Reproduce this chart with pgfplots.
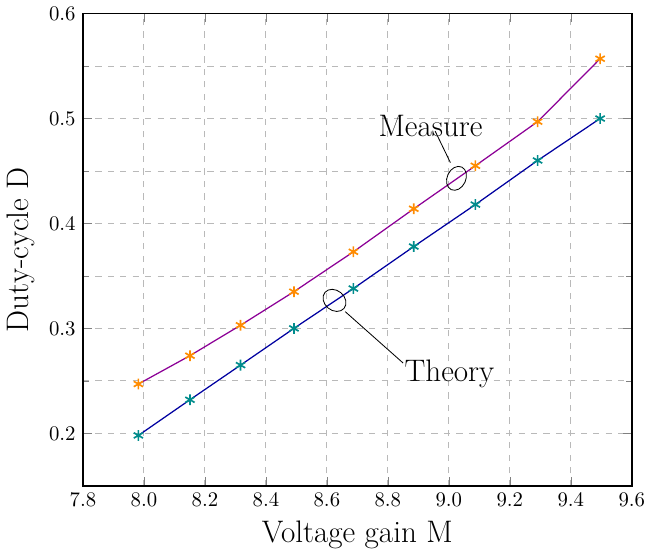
\documentclass[border=0pt]{standalone}
\usepackage{pgfplots}
\pgfplotsset{compat=1.18}
\usetikzlibrary{shapes.geometric}

\definecolor{measline}{RGB}{140,0,150}
\definecolor{theoline}{RGB}{0,0,160}
\definecolor{measmark}{RGB}{255,140,0}
\definecolor{theomark}{RGB}{0,140,140}

\begin{document}
\begin{tikzpicture}
\begin{axis}[
  scale only axis,
  width=9.3cm, height=8cm,
  xmin=7.8, xmax=9.6,
  ymin=0.15, ymax=0.6,
  xtick={7.8,8.0,...,9.6},
  ytick={0.2,0.3,0.4,0.5,0.6},
  minor ytick={0.25,0.35,0.45,0.55},
  xticklabel style={/pgf/number format/.cd,fixed,fixed zerofill,precision=1},
  yticklabel style={/pgf/number format/.cd,fixed,fixed zerofill,precision=1},
  grid=both,
  major grid style={dashed,gray!55},
  minor grid style={dashed,gray!55},
  axis line style={thick},
  label style={font=\fontsize{15}{18}\selectfont},
  xlabel={Voltage gain M},
  ylabel={Duty-cycle D},
]

% measured
\addplot[measline, semithick, mark=asterisk, mark size=2.6pt, mark options={measmark, solid, thick}] coordinates {
  (7.982,0.247) (8.151,0.274) (8.317,0.303) (8.492,0.335) (8.687,0.373)
  (8.885,0.414) (9.087,0.455) (9.291,0.497) (9.496,0.557)
};

% theory
\addplot[theoline, semithick, mark=asterisk, mark size=2.6pt, mark options={theomark, solid, thick}] coordinates {
  (7.982,0.198) (8.151,0.232) (8.317,0.265) (8.492,0.300) (8.687,0.338)
  (8.885,0.378) (9.087,0.418) (9.291,0.460) (9.496,0.500)
};

\draw (axis cs:9.025,0.443) ellipse[x radius=4.5pt, y radius=6pt, rotate=-25];
\draw (axis cs:9.005,0.458) -- (axis cs:8.955,0.488);
\node[font=\fontsize{15}{18}\selectfont] at (axis cs:8.94,0.493) {Measure};

\draw (axis cs:8.625,0.3267) ellipse[x radius=6pt, y radius=4.8pt, rotate=-40];
\draw (axis cs:8.66,0.316) -- (axis cs:8.85,0.267);
\node[font=\fontsize{15}{18}\selectfont] at (axis cs:9.002,0.2567) {Theory};
\end{axis}
\end{tikzpicture}
\end{document}
